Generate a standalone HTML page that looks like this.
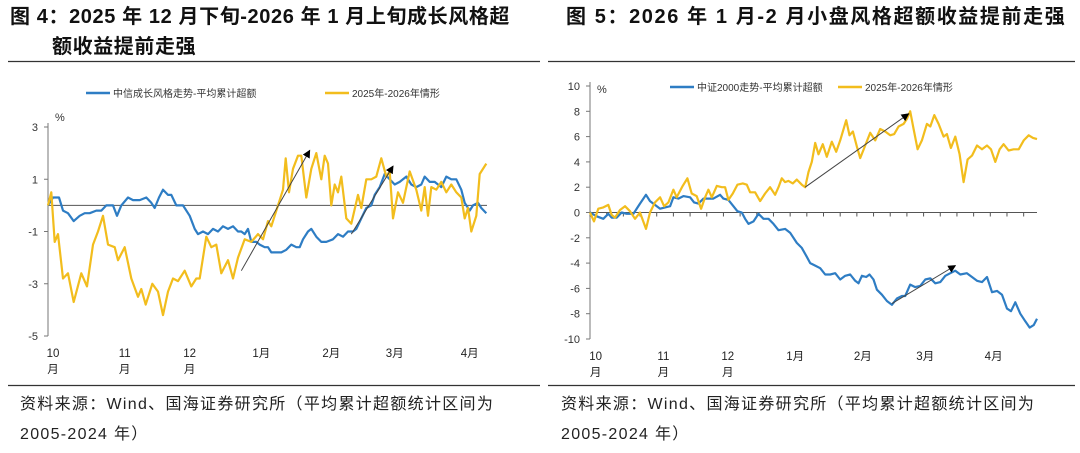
<!DOCTYPE html>
<html><head><meta charset="utf-8">
<style>
html,body{margin:0;padding:0;background:#fff;}
body{width:1080px;height:448px;overflow:hidden;font-family:"Liberation Sans","Noto Sans CJK SC",sans-serif;}
svg text{font-family:"Liberation Sans","Noto Sans CJK SC",sans-serif;}
</style></head>
<body>
<svg id="s" width="1080" height="448" viewBox="0 0 1080 448" xmlns="http://www.w3.org/2000/svg">
<defs><marker id="ah" markerWidth="8" markerHeight="8" refX="7" refY="4" orient="auto" markerUnits="userSpaceOnUse"><path d="M0,0 L8,4 L0,8 Z" fill="#000"/></marker></defs>
<g font-weight="bold" font-size="20" fill="#111" letter-spacing="0.6">
<text x="10" y="23">图 4：2025 年 12 月下旬-2026 年 1 月上旬成长风格超</text>
<text x="52" y="53">额收益提前走强</text></g>
<text x="566" y="23" font-weight="bold" font-size="20" fill="#111" letter-spacing="1.6">图 5：2026 年 1 月-2 月小盘风格超额收益提前走强</text>
<line x1="8" y1="61.5" x2="540" y2="61.5" stroke="#333" stroke-width="1.2"/>
<line x1="548" y1="61.5" x2="1075" y2="61.5" stroke="#333" stroke-width="1.2"/>
<line x1="8" y1="385.5" x2="540" y2="385.5" stroke="#333" stroke-width="1.2"/>
<line x1="548" y1="385.5" x2="1075" y2="385.5" stroke="#333" stroke-width="1.2"/>
<g font-size="16" fill="#222" letter-spacing="1.3">
<text x="20" y="409">资料来源：Wind、国海证券研究所（平均累计超额统计区间为</text>
<text x="20" y="439">2005-2024 年）</text></g>
<g font-size="16" fill="#222" letter-spacing="1.3">
<text x="561" y="409">资料来源：Wind、国海证券研究所（平均累计超额统计区间为</text>
<text x="561" y="439">2005-2024 年）</text></g>
<g id="left"></g>
<g id="right"></g>
</svg>
<script>
const leftYTicks=[3,1,-1,-3,-5];
const rightYTicks=[10,8,6,4,2,0,-2,-4,-6,-8,-10];
const leftMonths=["10\n月","11\n月","12\n月","1月","2月","3月","4月"];
const leftMonthDays=[1.5,23,42.5,64,85,104,126.5];
const rightMonths=["10\n月","11\n月","12\n月","1月","2月","3月","4月"];
const rightMonthDays=[1.7,22,41.3,61.5,81.8,100.5,121];
const leftGrowthDays=[0,1.5,3.3,4.5,6,7.7,9.5,11,12.5,14.5,16,17.5,19.5,20.7,22,24,25.5,27.5,29.5,31,32,33.3,34.5,36,37,38.5,40.5,42.5,44,45,46.5,48,49.5,51,52.5,54,55.5,57,58,59,60,61,62.5,63.5,65,66,67,68.5,70,71.5,73,74.5,75.5,76.5,78,79,80.5,82,83.5,85.5,87,88.5,90,91.5,92.5,94,95.5,97,98,99.5,101,102.5,104,105.5,107.5,109,110.5,112,113,114.5,116,118,119.5,121,122.5,124,125,126.5,127.5,129,130,131.5];
const leftGrowthValues=[0,.3,.3,-.2,-.3,-.6,-.4,-.3,-.3,-.2,-.2,0,0,-.4,0,.3,.2,.2,.3,.1,-.1,.3,.6,.4,.4,0,0,-.4,-.9,-1.1,-1.0,-1.1,-.9,-1.0,-.8,-.9,-.8,-1.0,-1.0,-1.1,-.9,-1.4,-1.4,-1.5,-1.6,-1.6,-1.8,-1.8,-1.8,-1.7,-1.5,-1.6,-1.6,-1.3,-1.0,-.9,-1.2,-1.4,-1.4,-1.3,-1.1,-1.2,-1.0,-1.0,-.9,-.5,-.1,0,.4,.7,1.2,1.0,.8,.9,1.1,.8,.7,.8,1.1,.9,.9,.7,1.1,1.0,1.0,.6,.1,-.2,0,.1,-.1,-.3];
const left2025Days=[0,1,2,3,4.5,6,7.7,10,11.7,13.5,15,16.5,18,20,21,23,25,27,28,29.3,31.3,33,34.5,36,37.5,39,41,43,44.5,45.5,47.5,49,50.5,52,54,55.5,57,59,61,63,64.5,66,67,69,70.5,71.3,72.3,73.5,75,76,77.5,79,80.5,82,83,84,85,86,87,88,89.5,91,93,94,95.5,97,98.5,100,101.5,102.5,103.5,105,106.5,108.5,110.5,112,113,114,115,116.5,118,119.5,121,122.5,124,125,126,127,128.5,129.5,131.5];
const left2025Values=[0,.5,-1.4,-1.1,-2.8,-2.6,-3.7,-2.6,-3.1,-1.5,-1.0,-.4,-1.5,-1.6,-2.1,-1.6,-2.8,-3.5,-3.2,-3.8,-3.0,-3.3,-4.2,-3.3,-2.8,-2.9,-2.5,-3.1,-2.8,-2.8,-1.2,-1.6,-1.5,-2.6,-2.1,-2.8,-2.0,-1.3,-1.4,-1.1,-1.3,-.6,-.8,0,.6,1.8,.5,1.4,1.9,1.9,.3,1.4,2.0,1.0,1.9,1.6,0,.8,.5,1.1,-.5,-.7,.4,-.1,1.0,1.0,1.1,1.8,1.1,1.3,-.5,.5,.1,1.3,.6,-.2,.7,-.4,.7,.6,.9,.5,.8,.5,.3,-.5,-.1,-1.0,-.4,1.2,1.6];
const rightCsi2000Days=[0,2,4,5.5,6.5,8,9.5,11,13,15,16.8,18,19.5,21,22.5,24,25,26.5,28,30,31.2,32.5,34,35.5,37,39,40,41.5,43,44.2,45.5,46.5,47.5,49,50.5,52,53.5,55,56.5,58.5,60,62,63.5,65,66,67.5,69,70.5,72,73.5,75,76.5,78,79.5,80.5,81.5,82.8,83.8,85,86,87.5,89,90.5,92,93.5,94.5,96,97.5,99,100.5,102,103.5,105,106.5,108,109.5,111,113,114.5,116,117.5,119,120.5,122,123.5,125,126.2,127.5,129,130.5,131.8,133,134];
const rightCsi2000Values=[0,-.3,-.5,-.1,-.4,-.4,0,-.1,-.1,.7,1.4,.9,.6,.3,.4,.5,1.2,1.1,1.3,1.2,.8,.7,1.1,1.1,1.1,1.4,1.1,1.0,.5,.1,0,-.5,-.9,-.7,-.1,-.5,-.5,-.9,-1.4,-1.3,-1.6,-2.4,-2.8,-3.5,-4.0,-4.2,-4.4,-4.9,-4.9,-4.8,-5.3,-5.0,-4.9,-5.4,-5.6,-5.0,-5.1,-4.9,-5.3,-6.1,-6.5,-7.0,-7.3,-6.8,-6.6,-6.6,-5.7,-5.9,-5.8,-5.3,-5.2,-5.6,-5.5,-5.0,-4.8,-4.6,-4.9,-4.8,-5.1,-5.4,-5.5,-5.1,-6.3,-6.2,-6.5,-7.6,-7.8,-7.1,-8.0,-8.6,-9.1,-8.9,-8.4];
const right2025Days=[0,1.2,2.5,4,5.5,6.5,7.5,9,10.5,12,13.5,15,16.8,18,19.5,21,22.2,23.5,25,26,27.8,29.2,30.5,32,33.3,34.5,35.5,36.5,38,39.5,40.5,41.5,42.8,44.2,45.8,47,48,49.5,51,52.5,54,55.5,56.5,57.5,58.5,59.5,60.8,62,63.5,64.5,65.5,66.5,67.5,68.5,69.8,71,72.5,73.8,75,76.8,77.8,78.8,80,81,82.5,84,85.5,87,88.5,90,91.2,92.5,94,95,96,97,98.2,99.5,101,102,103.2,104.5,106,107,108.2,109.5,110.8,112,113.2,114.5,116,117.5,119,120.2,121.5,122.8,124,125.5,127,128.5,130,131.5,132.8,134];
const right2025Values=[0,-.7,.3,.4,.6,-.2,-.4,.2,.5,.1,-.5,0,-1.3,0,.8,1.2,.5,.8,1.8,1.2,2.1,2.7,1.5,1.3,.3,1.2,1.8,1.2,2.1,2.0,2.0,1.0,1.5,2.2,2.3,2.2,1.6,1.6,.9,1.5,2.0,1.4,2.0,2.7,2.4,2.5,2.3,2.6,2.2,2.0,3.2,4.0,5.5,4.6,5.4,4.4,5.6,4.8,5.7,7.3,6.1,6.4,5.2,4.3,5.3,6.3,5.7,6.6,6.4,6.1,6.2,6.8,7.0,7.4,8.0,6.6,5.0,5.7,7.0,6.8,7.7,7.0,6.0,6.2,5.1,6.0,4.6,2.4,4.2,4.5,5.3,5.0,5.3,5.0,4.0,5.0,5.4,4.9,5.0,5.0,5.7,6.1,5.9,5.8];

const NS="http://www.w3.org/2000/svg";
function mk(parent,tag,attrs){const e=document.createElementNS(NS,tag);for(const k in attrs)e.setAttribute(k,attrs[k]);parent.appendChild(e);return e;}

function drawChart(g,cfg){
  const xs=d=>cfg.x0+(d-cfg.dMin)/(cfg.dMax-cfg.dMin)*(cfg.x1-cfg.x0);
  const ys=v=>cfg.yTop+(cfg.vMax-v)/(cfg.vMax-cfg.vMin)*(cfg.yBot-cfg.yTop);
  const ax=mk(g,'line',{x1:cfg.x0,y1:cfg.yTop-4,x2:cfg.x0,y2:cfg.yBot,stroke:'#777','stroke-width':1});
  
  
  cfg.yTicks.forEach(t=>{
    const tl=mk(g,'line',{x1:cfg.x0-4,y1:ys(t),x2:cfg.x0,y2:ys(t),stroke:'#777'});
    
    
    const tx=mk(g,'text',{x:cfg.x0-10,y:ys(t)+4,'text-anchor':'end','font-size':11,fill:'#333'});
    tx.textContent=t;
    
    
  });
  const pc=mk(g,'text',{x:cfg.x0+7,y:cfg.pctY,'font-size':11,fill:'#333'});pc.textContent='%';
  
  
  const zl=mk(g,'line',{x1:cfg.x0,y1:ys(0),x2:cfg.x1,y2:ys(0),stroke:'#555','stroke-width':1});
  
  
  if(cfg.zeroTicks){for(let d=cfg.dMin;d<=cfg.dMax;d+=5){const zt=mk(g,'line',{x1:xs(d),y1:ys(0),x2:xs(d),y2:ys(0)+4,stroke:'#555'});
    
    }}
  cfg.months.forEach((m,i)=>{
    const parts=m.split('\n');
    const tx=mk(g,'text',{x:xs(cfg.monthDays[i]),y:cfg.yBot+21,'text-anchor':'middle','font-size':11.5,fill:'#222'});
    
    
    parts.forEach((p,j)=>{const ts=mk(tx,'tspan',{x:xs(cfg.monthDays[i]),dy:j?16:0});ts.textContent=p;});
  });
  cfg.series.forEach(s=>{
    const d=s.days.map((dd,i)=>(i?'L':'M')+xs(dd).toFixed(1)+','+ys(s.vals[i]).toFixed(1)).join('');
    const p=mk(g,'path',{d:d,fill:'none',stroke:s.color,'stroke-width':2.2,'stroke-linejoin':'round'});
    
    
  });
  cfg.arrows.forEach(a=>{
    const l=mk(g,'line',{x1:xs(a[0]),y1:ys(a[1]),x2:xs(a[2]),y2:ys(a[3]),stroke:'#444','stroke-width':1,'marker-end':'url(#ah)'});
    
    
  });
  cfg.legend.forEach(L=>{
    const lg=mk(g,'g',{});
    
    
    mk(lg,'line',{x1:L[0],y1:cfg.legY,x2:L[0]+24,y2:cfg.legY,stroke:L[2],'stroke-width':2.5});
    const t=mk(lg,'text',{x:L[0]+27,y:cfg.legY+4,'font-size':10,fill:'#333'});t.textContent=L[1];
  });
}
drawChart(document.getElementById('left'),{x0:48,x1:487,dMin:0,dMax:131.7,yTop:127,yBot:336,vMax:3,vMin:-5,
  yTicks:leftYTicks,months:leftMonths,monthDays:leftMonthDays,pctY:121,legY:93,zeroTicks:false,
  series:[{name:'growth-style-avg-excess-line',days:leftGrowthDays,vals:leftGrowthValues,color:'#2e7dc4'},
          {name:'growth-2025-2026-line',days:left2025Days,vals:left2025Values,color:'#f2bd1d'}],
  arrows:[[58,-2.5,78.5,2.1],[91,-1.1,103.5,1.5]],
  legend:[[86,'中信成长风格走势-平均累计超额','#2e7dc4'],[325,'2025年-2026年情形','#f2bd1d']]});
drawChart(document.getElementById('right'),{x0:590,x1:1037,dMin:0,dMax:134,yTop:86,yBot:339,vMax:10,vMin:-10,
  yTicks:rightYTicks,months:rightMonths,monthDays:rightMonthDays,pctY:93,legY:87,zeroTicks:true,
  series:[{name:'csi2000-avg-excess-line',days:rightCsi2000Days,vals:rightCsi2000Values,color:'#2e7dc4'},
          {name:'csi2000-2025-2026-line',days:right2025Days,vals:right2025Values,color:'#f2bd1d'}],
  arrows:[[64.5,2.0,95.5,7.8],[90.5,-7.2,109.5,-4.2]],
  legend:[[670,'中证2000走势-平均累计超额','#2e7dc4'],[838,'2025年-2026年情形','#f2bd1d']]});
</script>
</body></html>
